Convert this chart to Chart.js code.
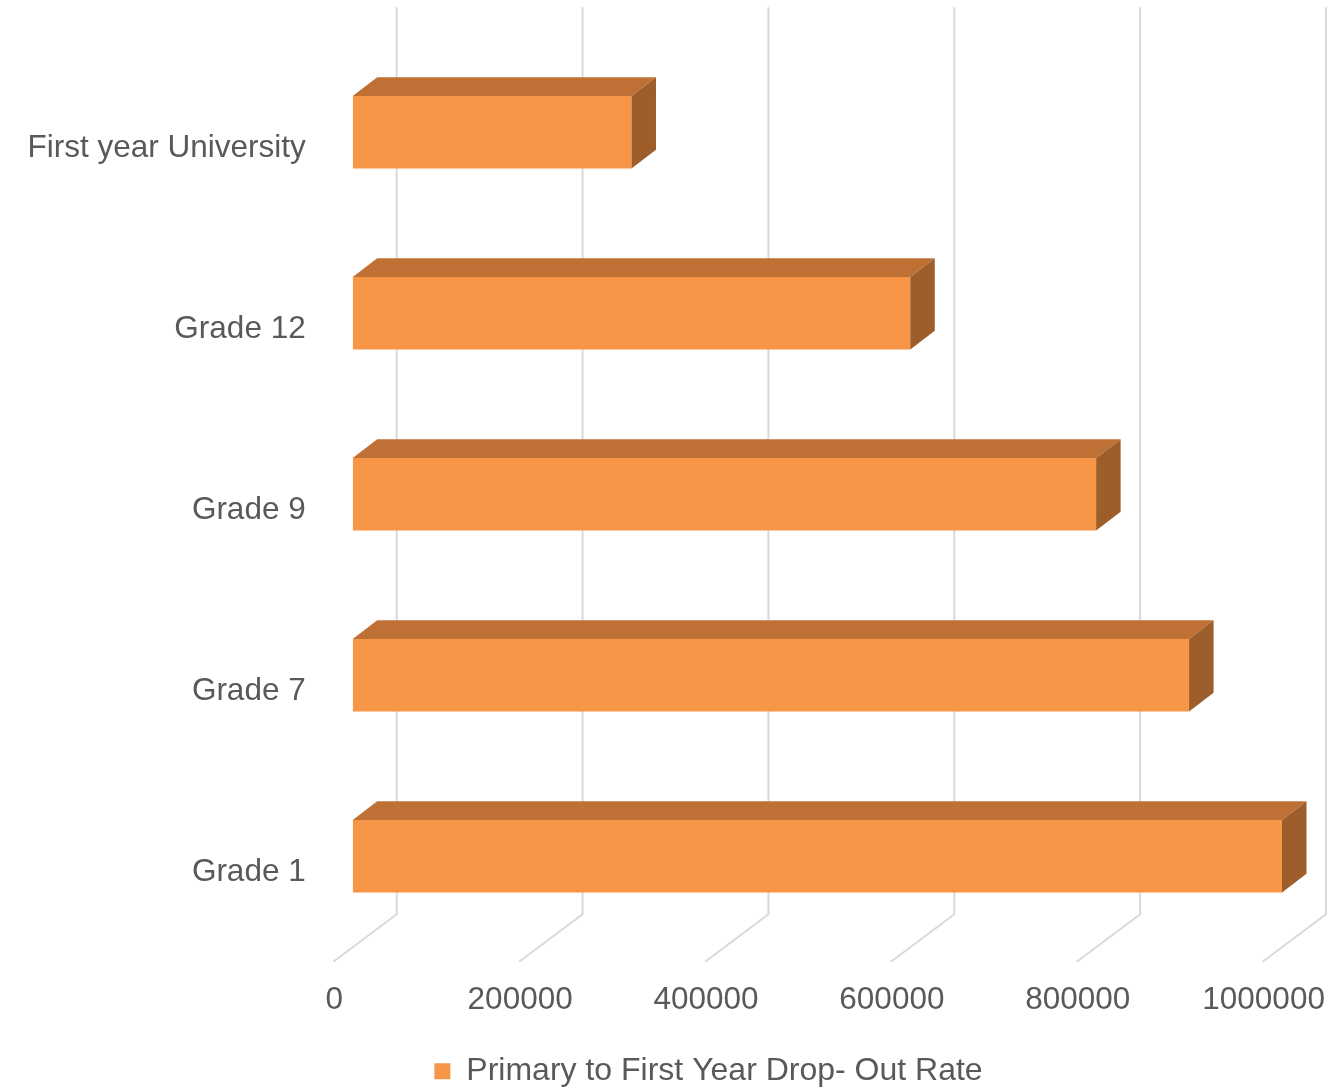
<!DOCTYPE html>
<html>
<head>
<meta charset="utf-8">
<title>Primary to First Year Drop- Out Rate</title>
<script src="https://cdn.jsdelivr.net/npm/chart.js@4.4.1/dist/chart.umd.min.js"></script>
<style>
  html, body { margin: 0; padding: 0; background: #ffffff; }
  .chart-wrap { width: 1344px; height: 1088px; position: relative; }
</style>
</head>
<body>
<div class="chart-wrap">
  <canvas id="dropoutChart"></canvas>
</div>
<script>
const categories = ["First year University", "Grade 12", "Grade 9", "Grade 7", "Grade 1"];
const learners = [300000, 600000, 800000, 900000, 1000000];
const xTickLabels = ["0", "200000", "400000", "600000", "800000", "1000000"];
const seriesName = "Primary to First Year Drop- Out Rate";

const FONT = "'Liberation Sans', Arial, sans-serif";
const TEXT_COLOR = "#595959";
const GRID_COLOR = "#d9d9d9";
const FRONT_COLOR = "#f79646";
const TOP_COLOR = "#bf7135";
const SIDE_COLOR = "#9d5e2b";

// fake 3d: offsets from the plane the bars sit on
const barDepth = { dx: 24.5, dy: 18.7 };
const backWall = { dx: 44, dy: 32.4 };
const frontEdge = { dx: -19.4, dy: 15 };
// legend sits a bit right of the canvas centre, like the original
const legendShift = 135;

const depthGrid = {
  id: "depthGrid",
  afterLayout(chart) {
    if (chart.legend) {
      chart.legend.left += legendShift;
    }
  },
  beforeDatasetsDraw(chart) {
    const { ctx, chartArea, scales } = chart;
    const xScale = scales.x;
    ctx.save();
    ctx.strokeStyle = GRID_COLOR;
    ctx.lineWidth = 2;
    xScale.ticks.forEach((tick) => {
      const px = xScale.getPixelForValue(tick.value);
      const backX = px + backWall.dx;
      const backBottom = chartArea.bottom - backWall.dy;
      ctx.beginPath();
      ctx.moveTo(backX, chartArea.top - backWall.dy - 2);
      ctx.lineTo(backX, backBottom);
      ctx.lineTo(px + frontEdge.dx, chartArea.bottom + frontEdge.dy);
      ctx.stroke();
    });
    ctx.restore();
  },
  afterDatasetsDraw(chart) {
    const { ctx } = chart;
    const meta = chart.getDatasetMeta(0);
    ctx.save();
    meta.data.forEach((bar) => {
      const { x, y, base, height } = bar.getProps(["x", "y", "base", "height"], true);
      const top = y - height / 2;
      const bottom = y + height / 2;

      ctx.fillStyle = TOP_COLOR;
      ctx.beginPath();
      ctx.moveTo(base, top);
      ctx.lineTo(base + barDepth.dx, top - barDepth.dy);
      ctx.lineTo(x + barDepth.dx, top - barDepth.dy);
      ctx.lineTo(x, top);
      ctx.closePath();
      ctx.fill();

      ctx.fillStyle = SIDE_COLOR;
      ctx.beginPath();
      ctx.moveTo(x, top);
      ctx.lineTo(x + barDepth.dx, top - barDepth.dy);
      ctx.lineTo(x + barDepth.dx, bottom - barDepth.dy);
      ctx.lineTo(x, bottom);
      ctx.closePath();
      ctx.fill();
    });
    ctx.restore();
  }
};

const ctx = document.getElementById("dropoutChart").getContext("2d");

new Chart(ctx, {
  type: "bar",
  data: {
    labels: categories,
    datasets: [
      {
        label: seriesName,
        data: learners,
        backgroundColor: FRONT_COLOR,
        borderWidth: 0,
        categoryPercentage: 1,
        barPercentage: 0.4
      }
    ]
  },
  options: {
    indexAxis: "y",
    responsive: true,
    maintainAspectRatio: false,
    animation: false,
    layout: {
      padding: { top: 41.7, left: 0, right: 62, bottom: 0 }
    },
    plugins: {
      legend: {
        position: "bottom",
        maxHeight: 42.7,
        labels: {
          color: TEXT_COLOR,
          font: { family: FONT, size: 32 },
          boxWidth: 16,
          boxHeight: 16,
          padding: 10
        }
      },
      tooltip: { enabled: false }
    },
    scales: {
      x: {
        min: 0,
        max: 1000000,
        ticks: {
          stepSize: 200000,
          color: TEXT_COLOR,
          font: { family: FONT, size: 31.5 },
          padding: 35,
          labelOffset: frontEdge.dx + 1,
          maxRotation: 0,
          callback: (value, index) => xTickLabels[index]
        },
        grid: { display: false, drawTicks: false },
        border: { display: false },
        afterFit(scale) {
          scale.height = 98.6;
          scale.paddingLeft = 0;
          scale.paddingRight = 0;
        }
      },
      y: {
        ticks: {
          color: TEXT_COLOR,
          font: { family: FONT, size: 31.5 },
          padding: 47,
          labelOffset: 16.5
        },
        grid: { display: false, drawTicks: false },
        border: { display: false },
        afterFit(scale) {
          scale.width = 352.7;
          scale.paddingTop = 0;
          scale.paddingBottom = 0;
        }
      }
    }
  },
  plugins: [depthGrid]
});
</script>
</body>
</html>
